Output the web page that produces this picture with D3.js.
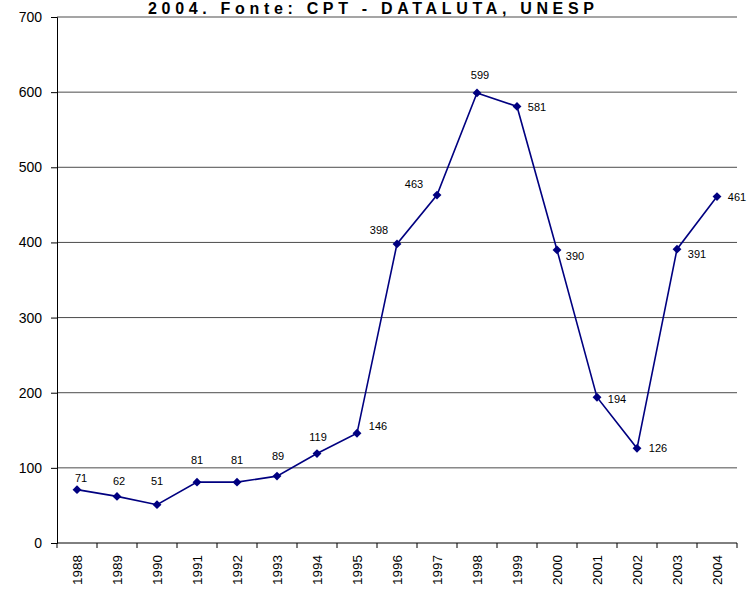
<!DOCTYPE html>
<html>
<head>
<meta charset="utf-8">
<script src="https://cdn.jsdelivr.net/npm/d3@7"></script>
<style>
  html, body { margin: 0; padding: 0; background: #fff; }
  svg { display: block; font-family: "Liberation Sans", Arial, sans-serif; }
</style>
</head>
<body>
<svg id="chart" width="748" height="592"></svg>
<script>
// ---- data ----
const titleText = "2004. Fonte: CPT - DATALUTA, UNESP";
const years = ["1988","1989","1990","1991","1992","1993","1994","1995","1996","1997","1998","1999","2000","2001","2002","2003","2004"];
const values = [71, 62, 51, 81, 81, 89, 119, 146, 398, 463, 599, 581, 390, 194, 126, 391, 461];
const yTicks = [0, 100, 200, 300, 400, 500, 600, 700];
// label placement (offset of label centre from its point, in px)
const labelDx = [4, 2, 0, 0, 0, 1, 1, 21, -18, -23, 3, 20, 18, 20, 21, 20, 20];
const labelDy = [-12, -15, -24, -22, -22, -20, -17, -7, -14, -11, -18, 1, 6, 2, 0, 5, 0];

// ---- layout ----
const svg = d3.select("#chart");
const mLeft = 57, mRight = 737, mTop = 17, mBottom = 543;

const x = d3.scaleBand().domain(years).range([mLeft, mRight]);
const y = d3.scaleLinear().domain([0, 700]).range([mBottom, mTop]);

// gridlines
svg.append("g")
  .selectAll("line")
  .data(yTicks.filter(d => d > 0))
  .join("line")
  .attr("x1", mLeft).attr("x2", mRight)
  .attr("y1", d => y(d)).attr("y2", d => y(d))
  .attr("stroke", "#000").attr("stroke-width", 1).attr("opacity", 0.7);

// y axis
const yAxis = d3.axisLeft(y).tickValues(yTicks).tickSize(6).tickPadding(9).tickFormat(d3.format("d"));
const gy = svg.append("g").attr("transform", `translate(${mLeft},0)`).call(yAxis);
gy.select(".domain").attr("stroke", "#000");
gy.selectAll(".tick line").attr("stroke", "#000");
gy.selectAll(".tick text").attr("font-size", 14).attr("fill", "#000")
  .attr("font-family", "Liberation Sans, Arial, sans-serif");

// x axis (ticks at category boundaries)
const gx = svg.append("g").attr("transform", `translate(0,${mBottom})`);
gx.append("line").attr("x1", mLeft).attr("x2", mRight).attr("y1", 0).attr("y2", 0).attr("stroke", "#000");
const bounds = years.map(d => x(d)).concat([mRight]);
gx.selectAll("line.tk").data(bounds).join("line").attr("class", "tk")
  .attr("x1", d => d).attr("x2", d => d).attr("y1", 0).attr("y2", 5).attr("stroke", "#000");
gx.selectAll("text").data(years).join("text")
  .attr("transform", d => `translate(${x(d) + x.bandwidth() / 2 + 4.5},12) rotate(-90)`)
  .attr("text-anchor", "end")
  .attr("font-size", 13.5)
  .attr("fill", "#000")
  .text(d => d);

// line
const pts = years.map((yr, i) => ({ yr, v: values[i], dx: labelDx[i], dy: labelDy[i] }));
const line = d3.line().x(d => x(d.yr) + x.bandwidth() / 2).y(d => y(d.v));
svg.append("path").datum(pts).attr("d", line)
  .attr("fill", "none").attr("stroke", "#000080").attr("stroke-width", 1.6);

// markers
const diamond = d3.symbol().type(d3.symbolDiamond2).size(50);
svg.append("g").selectAll("path").data(pts).join("path")
  .attr("d", diamond)
  .attr("transform", d => `translate(${x(d.yr) + x.bandwidth() / 2},${y(d.v)})`)
  .attr("fill", "#000080");

// data labels
svg.append("g").selectAll("text").data(pts).join("text")
  .attr("x", d => x(d.yr) + x.bandwidth() / 2 + d.dx)
  .attr("y", d => y(d.v) + d.dy)
  .attr("text-anchor", "middle")
  .attr("dominant-baseline", "central")
  .attr("font-size", 11)
  .attr("fill", "#000")
  .text(d => d.v);

// title
const t = svg.append("text")
  .attr("x", 371).attr("y", 13.5)
  .attr("text-anchor", "middle")
  .attr("font-size", 16).attr("font-weight", "bold").attr("fill", "#000")
  .text(titleText);
const w = t.node().getComputedTextLength();
const ls = (446 - w) / (titleText.length - 1);
t.attr("letter-spacing", ls + "px").attr("x", 371 + ls / 2);
</script>
</body>
</html>
